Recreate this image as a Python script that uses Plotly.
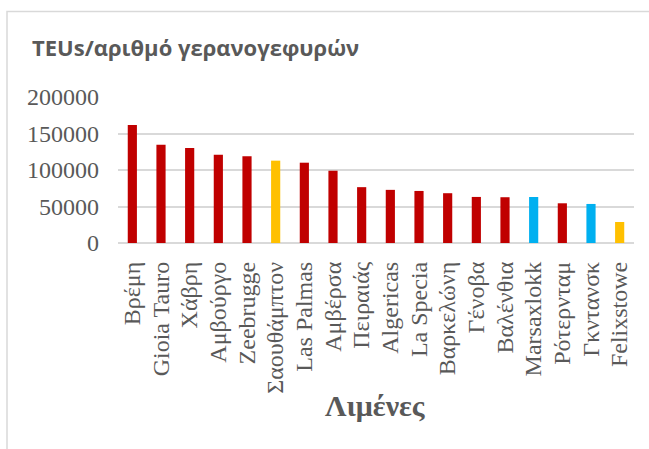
import plotly.graph_objects as go

ports = ["Βρέμη", "Gioia Tauro", "Χάβρη", "Αμβούργο", "Zeebrugge", "Σαουθάμπτον",
         "Las Palmas", "Αμβέρσα", "Πειραιάς", "Algericas", "La Specia", "Βαρκελώνη",
         "Γένοβα", "Βαλένθια", "Marsaxlokk", "Ρότερνταμ", "Γκντανσκ", "Felixstowe"]
teus_per_crane = [161600, 134500, 130200, 121000, 118700, 112800,
                  110000, 99000, 76500, 72800, 71300, 68200,
                  63100, 62700, 63000, 54400, 53500, 28800]
bar_colors = ["#C00000"] * 5 + ["#FFC000"] + ["#C00000"] * 8 + ["#00B0F0", "#C00000", "#00B0F0", "#FFC000"]
y_ticks = [0, 50000, 100000, 150000, 200000]

W, H = 649, 449
L, R, T, B = 118, 15, 97, 206
pw, ph = W - L - R, H - T - B

def px_x(x):
    return (x - L) / pw

def px_y(y):
    return (H - B - y) / ph

fig = go.Figure(go.Bar(x=ports, y=teus_per_crane, marker_color=bar_colors,
                       marker_line_width=0, width=0.32))

fig.update_layout(
    width=W, height=H, margin=dict(l=L, r=R, t=T, b=B),
    plot_bgcolor="white", paper_bgcolor="white", showlegend=False,
    xaxis=dict(tickmode="array", tickvals=ports, ticktext=ports, tickangle=-90,
               tickfont=dict(family="Liberation Serif", size=24, color="#595959"),
               showgrid=False, showline=False, ticks="", ticklabelstandoff=13),
    yaxis=dict(range=[0, 200000], tickvals=y_ticks, ticktext=[str(v) for v in y_ticks],
               tickfont=dict(family="Liberation Serif", size=24, color="#595959"),
               showgrid=True, gridcolor="#d9d9d9", gridwidth=1.5, zeroline=True,
               zerolinecolor="#d9d9d9", zerolinewidth=1.5, showline=False, ticks="",
               ticklabelstandoff=18),
    annotations=[
        dict(text="<b>TEUs/αριθμό γερανογεφυρών</b>", xref="paper", yref="paper",
             x=px_x(30), y=px_y(47), xanchor="left", yanchor="middle", showarrow=False,
             font=dict(family="Open Sans", size=22, color="#595959")),
        dict(text="<b>Λιμένες</b>", xref="paper", yref="paper",
             x=px_x(375), y=px_y(405), xanchor="center", yanchor="middle", showarrow=False,
             font=dict(family="Liberation Serif", size=30, color="#595959")),
    ],
    shapes=[dict(type="rect", xref="paper", yref="paper", x0=px_x(7), x1=px_x(670),
                 y0=px_y(470), y1=px_y(11.5), line=dict(color="#d9d9d9", width=1.5),
                 fillcolor="rgba(0,0,0,0)", layer="below")],
)

fig.write_html("out.html")
